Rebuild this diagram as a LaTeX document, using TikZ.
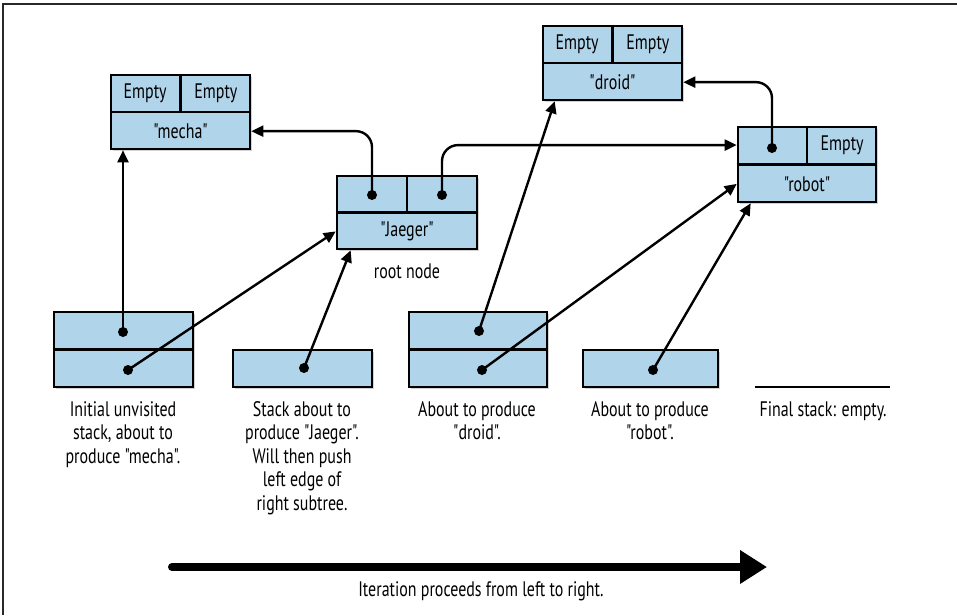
\documentclass[tikz,border=0pt]{standalone}
\usepackage{fontspec}
\setmainfont{PT Sans}[FakeStretch=0.76, Ligatures=TeXOff]
\usetikzlibrary{arrows.meta,calc,shadows}
\definecolor{boxblue}{RGB}{176,212,234}
\definecolor{framegray}{RGB}{40,40,40}
\tikzset{
  x=1pt, y=-1pt,
  box/.style={draw=black, line width=2.6pt, fill=boxblue, inner sep=0pt,
    drop shadow={shadow xshift=2pt, shadow yshift=-2pt, opacity=0.35, fill=gray}},
  divider/.style={draw=black, line width=2.6pt},
  lbl/.style={inner sep=0pt, font=\fontsize{21}{23}\selectfont},
  captext/.style={inner sep=0pt, anchor=north, align=center, font=\fontsize{21}{23.5}\selectfont},
  arr/.style={draw=black, line width=2.4pt, -{Triangle[length=12pt,width=11pt]}},
  dotmark/.style={circle, fill=black, inner sep=0pt, minimum size=10pt},
}
\begin{document}
\begin{tikzpicture}
\useasboundingbox (0,0) rectangle (957,615);
% frame (top and left edges)
\draw[framegray, line width=2pt] (3,615) -- (3,4) -- (957,4);

% tree nodes
\node[box, minimum width=139pt, minimum height=74pt] (mecha) at (180.5,112) {};
\node[box, minimum width=140pt, minimum height=73pt] (jaeger) at (407,212.5) {};
\node[box, minimum width=139pt, minimum height=74pt] (droid) at (612.5,63) {};
\node[box, minimum width=138pt, minimum height=75pt] (robot) at (807,164.5) {};
\foreach \n in {mecha,jaeger,droid,robot}{
  \draw[divider] (\n.west) -- (\n.east);
  \draw[divider] (\n.north) -- (\n.center);
}
% texts in tree nodes
\node[lbl] (me1) at ($(mecha.north west)!0.5!(mecha.center)$) {Empty};
\node[lbl] (me2) at ($(mecha.north east)!0.5!(mecha.center)$) {Empty};
\node[lbl] (me3) at ($(mecha.south)!0.5!(mecha.center)$) {"mecha"};
\node[lbl] (ja3) at ($(jaeger.south)!0.5!(jaeger.center)$) {"Jaeger"};
\node[lbl] (dr1) at ($(droid.north west)!0.5!(droid.center)$) {Empty};
\node[lbl] (dr2) at ($(droid.north east)!0.5!(droid.center)$) {Empty};
\node[lbl] (dr3) at ($(droid.south)!0.5!(droid.center)$) {"droid"};
\node[lbl] (ro2) at ($(robot.north east)!0.5!(robot.center)$) {Empty};
\node[lbl] (ro3) at ($(robot.south)!0.5!(robot.center)$) {"robot"};
\node[lbl] (rootlbl) at (407,271) {root node};

% stacks
\node[box, minimum width=139pt, minimum height=75pt] (s1) at (123.5,349.5) {};
\node[box, minimum width=139pt, minimum height=37pt] (s2) at (302.5,368.5) {};
\node[box, minimum width=138pt, minimum height=75pt] (s3) at (478,349.5) {};
\node[box, minimum width=135pt, minimum height=37pt] (s4) at (650.5,368.5) {};
\draw[divider] (s1.west) -- (s1.east);
\draw[divider] (s3.west) -- (s3.east);
\coordinate (finA) at (755,387);
\coordinate (finB) at (890,387);
\draw[line width=2.6pt] (finA) -- (finB);

% pointer dots
\node[dotmark] (jd1) at (372,195) {};
\node[dotmark] (jd2) at (442,195) {};
\node[dotmark] (rd1) at (772,148) {};
\node[dotmark] (s1a) at (123,332) {};
\node[dotmark] (s1b) at (128,370) {};
\node[dotmark] (s2a) at (304,368) {};
\node[dotmark] (s3a) at (479,331) {};
\node[dotmark] (s3b) at (482,370) {};
\node[dotmark] (s4a) at (653,370) {};

% connectors
\draw[arr, rounded corners=16pt] (jd1.center) |- ($(mecha.east)!0.5!(mecha.south east)$);
\draw[arr, rounded corners=16pt] (jd2.center) |- ($(robot.west)!0.5!(robot.north west)$);
\draw[arr, rounded corners=16pt] (rd1.center) |- ($(droid.east)!0.5!(droid.south east)$);
\draw[arr] (s1a.center) -- (s1a.center |- mecha.south);
\draw[arr] (s1b.center) -- ($(jaeger.west)!0.5!(jaeger.south west)$);
\draw[arr] (s2a.center) -- ($(jaeger.south west)+(15,0)$);
\draw[arr] (s3a.center) -- ($(droid.south west)+(13,0)$);
\draw[arr] (s3b.center) -- ($(robot.west)!0.5!(robot.south west)$);
\draw[arr] (s4a.center) -- ($(robot.south west)+(14,0)$);

% captions
\node[captext] (c1) at (123,401) {Initial unvisited\\stack, about to\\produce "mecha".};
\node[captext] (c2) at (302,401) {Stack about to\\produce "Jaeger".\\Will then push\\left edge of\\right subtree.};
\node[captext] (c3) at (477,401) {About to produce\\"droid".};
\node[captext] (c4) at (650,401) {About to produce\\"robot".};
\node[captext] (c5) at (823,401) {Final stack: empty.};

% iteration arrow
\coordinate (itA) at (172,567);
\coordinate (itB) at (767,567);
\draw[line width=8pt, line cap=round, -{Triangle[length=27pt,width=32pt]}] (itA) -- (itB);
\node[captext] (itlbl) at (481,581) {Iteration proceeds from left to right.};
\end{tikzpicture}
\end{document}
